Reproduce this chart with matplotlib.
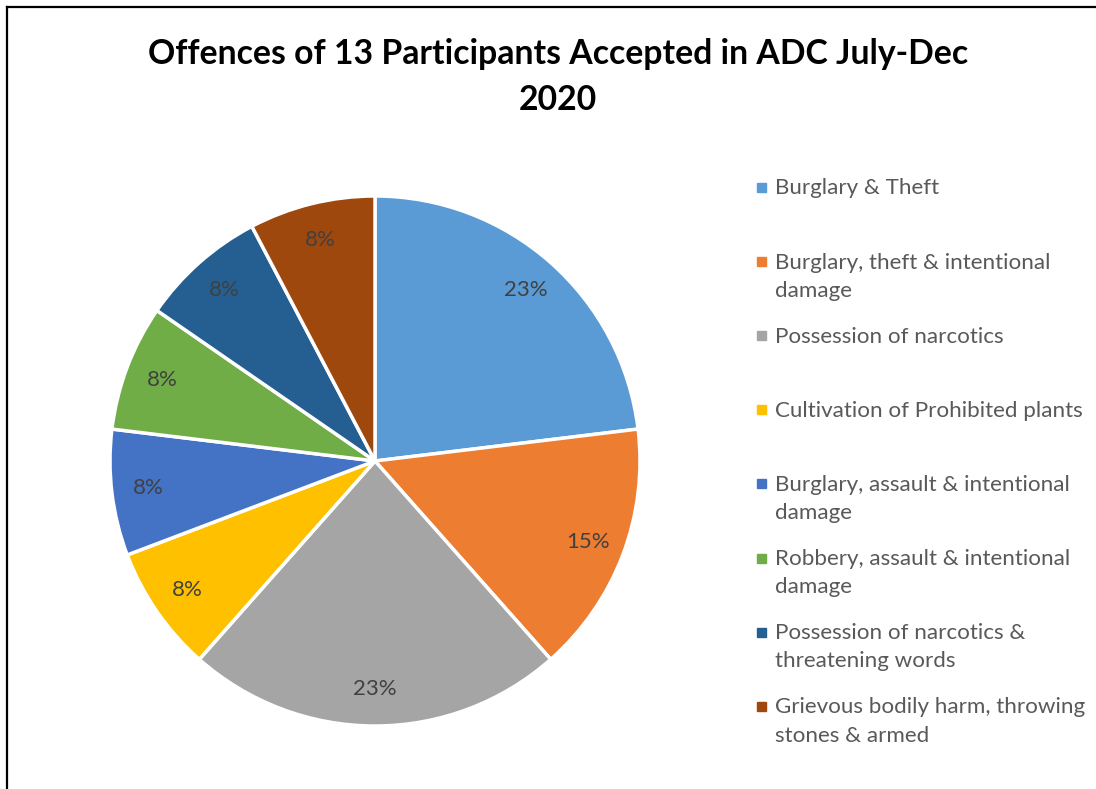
import matplotlib.pyplot as plt
from matplotlib.lines import Line2D

offences = [
    "Burglary & Theft",
    "Burglary, theft & intentional\ndamage",
    "Possession of narcotics",
    "Cultivation of Prohibited plants",
    "Burglary, assault & intentional\ndamage",
    "Robbery, assault & intentional\ndamage",
    "Possession of narcotics &\nthreatening words",
    "Grievous bodily harm, throwing\nstones & armed",
]
participants = [3, 2, 3, 1, 1, 1, 1, 1]
colors = ["#5B9BD5", "#ED7D31", "#A5A5A5", "#FFC000",
          "#4472C4", "#70AD47", "#255E91", "#9E480E"]

plt.rcParams["font.family"] = ["Lato", "DejaVu Sans"]

W, H = 1096, 789
fig = plt.figure(figsize=(W / 100, H / 100), dpi=100)

# pie centre and radius in pixels
cx, cy, r = 375, 461, 265
ax = fig.add_axes([(cx - r) / W, (H - cy - r) / H, 2 * r / W, 2 * r / H])
ax.pie(participants, colors=colors, startangle=90, counterclock=False,
       autopct="%1.0f%%", pctdistance=0.86,
       wedgeprops=dict(edgecolor="white", linewidth=2.5),
       textprops=dict(color="#404040", fontsize=16))
ax.set_xlim(-1, 1)
ax.set_ylim(-1, 1)
ax.set_aspect("equal")

fig.text(558 / W, 1 - 77 / H, "Offences of 13 Participants Accepted in ADC July-Dec\n2020",
         ha="center", va="center", fontsize=24.3, fontweight="bold",
         color="black", linespacing=1.55)

# legend, one slot per offence
for i, (lab, col) in enumerate(zip(offences, colors)):
    y = 187.5 + 74.1 * i
    fig.patches.append(plt.Rectangle((757 / W, 1 - (y + 4.5) / H), 9 / W, 9 / H,
                                     transform=fig.transFigure, color=col))
    fig.text(775 / W, 1 - (y - 9) / H, lab, ha="left", va="top",
             fontsize=16.1, color="#595959", linespacing=1.52)

# frame edges (left and top)
fig.add_artist(Line2D([7 / W, 7 / W], [0, 1 - 7 / H], color="black", linewidth=1.6))
fig.add_artist(Line2D([7 / W, 1], [1 - 7 / H, 1 - 7 / H], color="black", linewidth=1.6))

fig.savefig("out.png", dpi=100, facecolor="white")
